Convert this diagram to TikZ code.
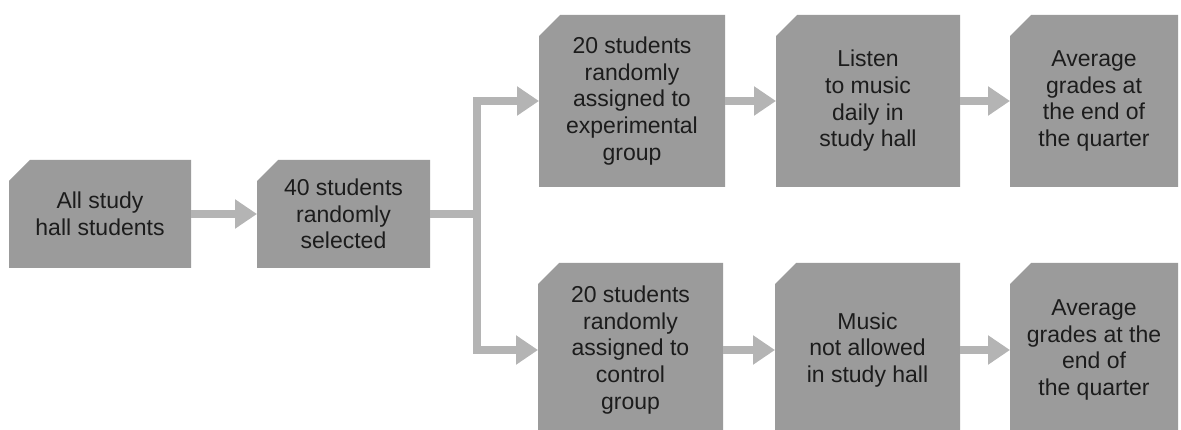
\documentclass[tikz,border=0pt]{standalone}
\usepackage{fontspec}
\setmainfont{Liberation Sans}
\usetikzlibrary{arrows.meta}
\definecolor{boxgray}{RGB}{155,155,155}
\definecolor{arrowgray}{RGB}{180,180,180}
\definecolor{txt}{RGB}{28,28,28}
\begin{document}
\begin{tikzpicture}[x=1pt,y=-1pt,
  stage/.style={rectangle, inner sep=0pt, outer sep=0pt, align=center, text=txt,
    font=\fontsize{23}{26.7}\selectfont,
    path picture={\fill[boxgray] (path picture bounding box.south west) -- (path picture bounding box.south east) -- (path picture bounding box.north east) -- ([xshift=21pt]path picture bounding box.north west) -- ([yshift=-21pt]path picture bounding box.north west) -- cycle;}},
  shaft/.style={draw=arrowgray, line width=8pt},
  flow/.style={shaft, line join=miter, -{Triangle[length=22pt,width=28pt]}}
]
\useasboundingbox (0,0) rectangle (1181,430);
\clip (0,0) rectangle (1181,430);
\node[stage, minimum width=182pt, minimum height=108pt] (b1) at (100,214) {All study\\hall students};
\node[stage, minimum width=173pt, minimum height=108pt] (b2) at (343.5,214) {40 students\\randomly\\selected};
\node[stage, minimum width=186pt, minimum height=172pt] (b3) at (632,101) {20 students\\randomly\\assigned to\\experimental\\group};
\node[stage, minimum width=184pt, minimum height=172pt] (b4) at (868,101) {Listen\\to music\\daily in\\study hall};
\node[stage, minimum width=168pt, minimum height=172pt] (b5) at (1094,101) {Average\\grades at\\the end of\\the quarter};
\node[stage, minimum width=185pt, minimum height=174pt] (b6) at (630.5,350) {20 students\\randomly\\assigned to\\control\\group};
\node[stage, minimum width=185pt, minimum height=174pt] (b7) at (867.5,350) {Music\\not allowed\\in study hall};
\node[stage, minimum width=168pt, minimum height=174pt] (b8) at (1094,350) {Average\\grades at the\\end of\\the quarter};
\coordinate (split) at (477,214);
\draw[flow] (b1) -- (b2);
\draw[shaft] (b2.east) -- ([xshift=4pt]split);
\draw[flow] (split) |- (b3.west);
\draw[flow] (split) |- (b6.west);
\draw[flow] (b3) -- (b4);
\draw[flow] (b4) -- (b5);
\draw[flow] (b6) -- (b7);
\draw[flow] (b7) -- (b8);
\end{tikzpicture}
\end{document}
